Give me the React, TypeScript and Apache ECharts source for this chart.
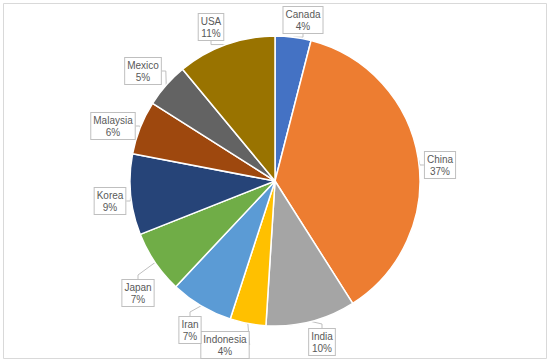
import React, { useEffect, useRef } from "react";
import * as echarts from "echarts";

const countries = ["Canada", "China", "India", "Indonesia", "Iran", "Japan", "Korea", "Malaysia", "Mexico", "USA"];
const shares = [4, 37, 10, 4, 7, 7, 9, 6, 5, 11];
const colors = ["#4472C4", "#ED7D31", "#A5A5A5", "#FFC000", "#5B9BD5", "#70AD47", "#264478", "#9E480E", "#636363", "#997300"];
const labelPos: [number, number][] = [
  [303, 20], [440, 165], [322, 342], [225, 345], [190, 330],
  [138, 293], [110, 201], [113, 126], [143, 71], [211, 27],
];

export default function App() {
  const ref = useRef<HTMLDivElement>(null);
  useEffect(() => {
    document.body.style.margin = "0";
    if (!ref.current) return;
    const chart = echarts.init(ref.current, undefined, { renderer: "svg" });
    chart.setOption({
      animation: false,
      backgroundColor: "#ffffff",
      graphic: [
        {
          type: "rect",
          shape: { x: 3.5, y: 3.5, width: 543, height: 355 },
          style: { fill: "none", stroke: "#D9D9D9", lineWidth: 1 },
          silent: true,
        },
      ],
      series: [
        {
          type: "pie",
          center: [275, 181],
          radius: 145,
          startAngle: 90,
          clockwise: true,
          data: countries.map((n, i) => ({ name: n, value: shares[i], itemStyle: { color: colors[i] } })),
          itemStyle: { borderColor: "#ffffff", borderWidth: 1.5 },
          label: {
            show: true,
            formatter: "{b}\n{c}%",
            fontFamily: "Liberation Sans, Arial, sans-serif",
            fontSize: 10,
            lineHeight: 12,
            color: "#595959",
            backgroundColor: "#ffffff",
            borderColor: "#BFBFBF",
            borderWidth: 1,
            padding: [1, 2],
            align: "center",
          },
          labelLine: { show: true, length: 6, length2: 4, lineStyle: { color: "#BFBFBF", width: 1 } },
          labelLayout: (params: any) => {
            const p = labelPos[params.dataIndex];
            return { x: p[0], y: p[1], align: "center", verticalAlign: "middle" };
          },
          emphasis: { disabled: true },
        },
      ],
    });
    return () => chart.dispose();
  }, []);
  return <div ref={ref} style={{ width: 550, height: 363 }} />;
}
